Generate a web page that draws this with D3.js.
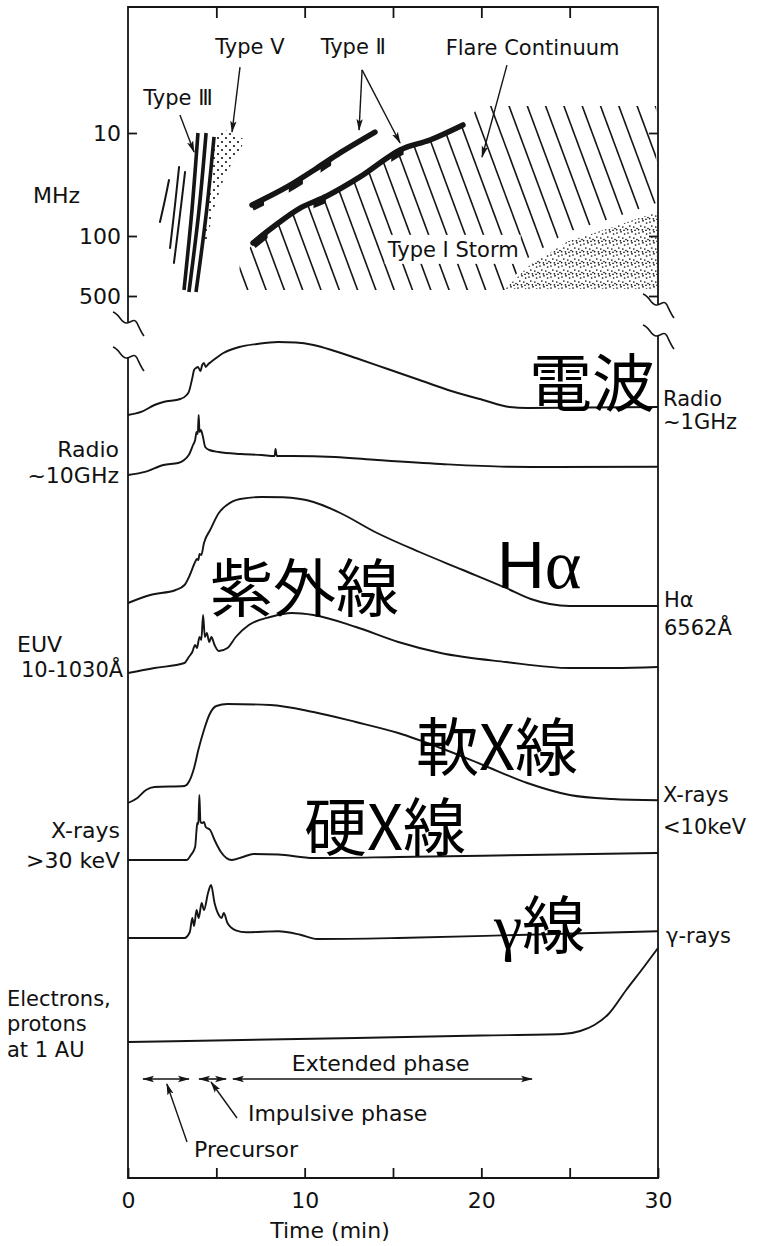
<!DOCTYPE html>
<html>
<head>
<meta charset="utf-8">
<script src="https://cdn.jsdelivr.net/npm/d3@7"></script>
<style>
  html, body { margin: 0; padding: 0; background: #ffffff; }
  svg { display: block; }
  .lbl { font-family: "DejaVu Sans", sans-serif; font-size: 22px; fill: #111; }
  .jp { font-family: "Noto Sans CJK JP", sans-serif; font-size: 63px; fill: #000; }
</style>
</head>
<body>
<svg id="chart" width="769" height="1246"></svg>
<script>
// ---------------- data ----------------
// time axis (minutes)
const timeTicks = [0, 5, 10, 15, 20, 25, 30];
const timeTickLabels = [0, 10, 20, 30];
// dynamic spectrum frequency ticks (MHz)
const freqTicks = [10, 100, 500];

// dynamic spectrum features: [time (min), frequency (MHz)]
const typeIIIThin = [
  [[2.32, 28.6], [2.09, 44.7], [1.81, 73]],
  [[2.89, 21.4], [2.66, 50], [2.38, 138]],
  [[3.23, 23.9], [2.94, 62.5], [2.60, 206]]
];
const typeIIIThick = [
  [[3.96, 10], [3.62, 56], [3.17, 426]],
  [[4.42, 10], [4.02, 56], [3.45, 449]],
  [[4.87, 10.9], [4.42, 62.5], [3.85, 449]]
];
const typeVRegion = [[4.92, 10.5], [5.66, 9.35], [6.62, 11.7], [6.34, 14.6], [5.49, 25.6],
  [4.75, 62.5], [4.47, 127], [4.25, 111], [4.47, 44.7], [4.81, 18.3]];
const typeIIUpper = [[7.02, 50], [9.0, 33.4], [10.7, 21.9], [12.0, 15.6], [13.98, 9.8]];
const typeIILower = [[7.08, 120.6], [8.21, 81.8], [9.74, 53.5], [11.26, 40.9], [13.13, 26.7],
  [15.4, 14.6], [17.09, 11.7], [18.96, 8.36]];
// thickened stretches of the type II lanes (time ranges)
const typeIIUpperBlobs = [[7.0, 7.7], [9.1, 9.9], [10.9, 11.5]];
const typeIILowerBlobs = [[7.05, 7.9], [10.5, 11.2], [14.9, 15.6]];
// flare continuum (hatched) outline
const flareContinuum = [[6.23, 426], [6.34, 201], ...typeIILower, [19.92, 5.47], [29.9, 5.47],
  [29.9, 47.9], [27.45, 66.8], [24.85, 91.4], [22.64, 180], [21.34, 426]];
// type I noise storm (stippled) outline
const typeIStorm = [[21.34, 414], [22.75, 218], [24.85, 117], [27.45, 81.8], [29.94, 58.5], [29.94, 414]];

// light curves: [time (min), relative flux above pre-flare level]
const radio1GHz = [[0, 0], [0.78, 3.3], [1.5, 10], [2.0, 13], [2.96, 16], [3.32, 20], [3.44, 23], [3.64, 37],
  [3.74, 45], [3.85, 47], [3.96, 48], [4.1, 44], [4.2, 50], [4.3, 52], [4.4, 48], [4.55, 51], [4.7, 53],
  [5.4, 62], [6.3, 68], [7.3, 71], [8.5, 73], [9.5, 72.5], [10.5, 70], [11.7, 64], [12.9, 57], [14.7, 46],
  [16.5, 35], [18.3, 24], [20.1, 15], [21.6, 8], [22.6, 7], [26, 7.5], [30, 8]];
const radio10GHz = [[0, 0], [1.02, 3.3], [2.0, 10], [2.84, 12], [3.44, 20], [3.68, 30], [3.8, 35], [3.88, 43],
  [3.95, 41], [4.0, 60], [4.05, 43], [4.12, 45], [4.22, 40], [4.37, 28], [4.6, 25], [5.14, 23], [6.35, 21],
  [7.57, 20], [8.3, 19], [8.35, 26], [8.42, 19], [9.27, 19], [11.7, 18], [14.1, 15], [17.7, 11], [21.4, 8.3],
  [23.8, 8], [30, 8.3]];
const hAlpha = [[0, 0], [1.26, 8], [2.7, 13], [3.2, 18], [3.5, 28], [3.8, 41], [3.9, 44], [3.98, 43], [4.05, 49],
  [4.15, 48], [4.3, 60], [4.65, 73], [5.14, 90], [5.6, 98], [6.35, 104], [7.57, 106], [8.78, 105.7],
  [10.5, 101], [11.9, 91], [14.1, 70], [16.5, 51], [18.96, 33], [21.4, 15], [22.8, 4], [25, -3], [30, -3]];
const euv = [[0, 0], [1.5, 5], [3.2, 10], [3.44, 16], [3.64, 21], [3.8, 28], [3.9, 25], [4.05, 36], [4.15, 33],
  [4.25, 58], [4.35, 36], [4.46, 40], [4.6, 31], [4.72, 36], [4.9, 28], [5.14, 22], [5.63, 25], [6.1, 36],
  [6.84, 48], [8.05, 56], [9.27, 60], [10.5, 58], [12.9, 46], [15.3, 31], [17.7, 20], [21.4, 11], [25, 5],
  [27.5, 5], [30, 6]];
const softXray = [[0, 0], [0.53, 5], [1.02, 13], [1.5, 16], [3.2, 17], [3.44, 21], [3.74, 35], [3.98, 53],
  [4.3, 73], [4.6, 88], [5.0, 97], [5.63, 99], [8.05, 98], [10.5, 91], [12.9, 81], [15.3, 70], [17.7, 55],
  [20.1, 38], [22.6, 20], [25, 8], [27.4, 4], [30, 2.7]];
const hardXray = [[0, 0], [3.32, 0], [3.56, 5], [3.8, 13], [3.88, 30], [3.92, 37], [3.98, 36], [4.04, 65],
  [4.1, 38], [4.2, 37], [4.3, 38], [4.4, 33], [4.65, 30], [4.9, 20], [5.26, 8], [5.87, 0], [6.5, 3], [7.1, 6],
  [8.5, 5.5], [10.5, 2], [15.3, 3], [22.6, 5], [30, 7]];
const gammaRay = [[0, 0], [3.2, 0], [3.5, 6], [3.64, 20], [3.74, 12], [3.88, 28], [4.0, 20], [4.17, 35],
  [4.3, 28], [4.53, 45], [4.7, 53], [4.9, 35], [5.14, 23], [5.3, 20], [5.42, 25], [5.63, 15], [6.1, 7.7],
  [6.7, 5.7], [8.5, 6.7], [9.75, 3.3], [10.7, -1], [15.3, 0], [22.6, 3.3], [30, 6.7]];
const particles = [[0, 0], [12.9, 4], [20, 6.5], [24.6, 8], [25.6, 11], [26.4, 17], [27.2, 28], [28.2, 52],
  [29.2, 75], [30, 94]];

// flare phases (time spans, min)
const phaseNames = ["Precursor", "Impulsive phase", "Extended phase"];
const phaseSpans = [[0.85, 3.45], [4.02, 5.55], [5.94, 22.87]];

// ---------------- drawing ----------------
const svg = d3.select("#chart");
const INK = "#151515";

const defs = svg.append("defs");
// slim arrow head for annotation pointers
defs.append("marker").attr("id", "head").attr("markerUnits", "userSpaceOnUse")
  .attr("viewBox", "0 0 12 8").attr("markerWidth", 12).attr("markerHeight", 8)
  .attr("refX", 11).attr("refY", 4).attr("orient", "auto-start-reverse")
  .append("path").attr("d", "M0,0.8 L12,4 L0,7.2 L2.5,4 Z").attr("fill", INK);
// stipple tiles
const pV = defs.append("pattern").attr("id", "dotsV").attr("patternUnits", "userSpaceOnUse")
  .attr("width", 8).attr("height", 8);
[[2, 2], [6, 6]].forEach(p => pV.append("circle").attr("cx", p[0]).attr("cy", p[1]).attr("r", 1.1).attr("fill", INK));
const pI = defs.append("pattern").attr("id", "dotsI").attr("patternUnits", "userSpaceOnUse")
  .attr("width", 11).attr("height", 11);
[[1, 2], [5, 0.8], [8.6, 3], [2.8, 6], [6.8, 7], [10, 8.5], [0.6, 9.6], [4.4, 9.8], [8, 10.4]]
  .forEach(p => pI.append("circle").attr("cx", p[0]).attr("cy", p[1]).attr("r", 0.85).attr("fill", INK));

const x = d3.scaleLinear().domain([0, 30]).range([128, 658]);
const ySpec = d3.scaleLog().domain([10, 100, 500]).range([133, 236, 296]);
const flux = d3.scaleLinear().domain([0, 100]).range([0, -100]);

// ---- frame with axis breaks ----
function breakMark(cx, cy) {
  return `M${cx - 15},${cy - 10} C${cx - 8},${cy - 8} ${cx - 7},${cy + 2} ${cx - 1},${cy + 1}` +
    ` C${cx + 4},${cy} ${cx + 6},${cy - 4} ${cx + 9},${cy + 1} C${cx + 11},${cy + 5} ${cx + 13},${cy + 10} ${cx + 16},${cy + 14}`;
}
const frame = svg.append("g").attr("fill", "none").attr("stroke", INK).attr("stroke-width", 1.8);
frame.append("path").attr("d", `M${x(0)},322 L${x(0)},7 L${x(30)},7 L${x(30)},304`);
frame.append("path").attr("d", `M${x(0)},357 L${x(0)},1178 L${x(30)},1178 L${x(30)},335`);
[[x(0), 322], [x(0), 357], [x(30), 304], [x(30), 335]].forEach(c =>
  frame.append("path").attr("d", breakMark(c[0], c[1])).attr("stroke-width", 1.6));

function styleAxis(g) {
  g.select(".domain").remove();
  g.selectAll(".tick line").attr("stroke", INK).attr("stroke-width", 1.8);
  g.selectAll(".tick text").attr("class", "lbl").attr("fill", "#111");
  g.attr("font-size", null).attr("font-family", null);
}
svg.append("g").attr("transform", `translate(${x(0)},0)`)
  .call(d3.axisLeft(ySpec).tickValues(freqTicks).tickFormat(d3.format("d")).tickSize(-9).tickPadding(7))
  .call(styleAxis);
svg.append("g").attr("transform", `translate(${x(30)},0)`)
  .call(d3.axisRight(ySpec).tickValues(freqTicks).tickFormat("").tickSize(-9))
  .call(styleAxis);
svg.append("g").attr("transform", "translate(0,7)")
  .call(d3.axisTop(x).tickValues(timeTicks.slice(1, -1)).tickFormat("").tickSize(-11))
  .call(styleAxis);
svg.append("g").attr("transform", "translate(0,1178)")
  .call(d3.axisBottom(x).tickValues(timeTicks).tickSize(-10).tickPadding(14)
    .tickFormat(d => timeTickLabels.includes(d) ? d : ""))
  .call(styleAxis);

svg.append("text").attr("class", "lbl").attr("x", 33).attr("y", 203).text("MHz");
svg.append("text").attr("class", "lbl").attr("x", 330).attr("y", 1238)
  .attr("text-anchor", "middle").text("Time (min)");

// ---- dynamic spectrum ----
const specLine = d3.line().x(d => x(d[0])).y(d => ySpec(d[1])).curve(d3.curveCatmullRom);
const specArea = d3.line().x(d => x(d[0])).y(d => ySpec(d[1])).curve(d3.curveLinearClosed);
const spec = svg.append("g");

// flare continuum hatching, clipped to its outline
defs.append("clipPath").attr("id", "fcClip").append("path").attr("d", specArea(flareContinuum));
const hatch = spec.append("g").attr("clip-path", "url(#fcClip)");
const hatchSlope = 2.7, hatchGap = 18.3;
d3.range(-6, 30).forEach(k => {
  const xb = 250 + k * hatchGap;
  hatch.append("line").attr("x1", xb - (296 - 95) / hatchSlope).attr("y1", 95)
    .attr("x2", xb).attr("y2", 296).attr("stroke", INK).attr("stroke-width", 1.6);
});

// type I storm stipple
spec.append("path").attr("d", specArea(typeIStorm)).attr("fill", "url(#dotsI)");
// type V stipple
spec.append("path").attr("d", specArea(typeVRegion)).attr("fill", "url(#dotsV)");

// type III bursts
typeIIIThin.forEach(b => spec.append("path").attr("d", specLine(b)).attr("fill", "none")
  .attr("stroke", INK).attr("stroke-width", 2).attr("stroke-linecap", "round"));
typeIIIThick.forEach(b => spec.append("path").attr("d", specLine(b)).attr("fill", "none")
  .attr("stroke", INK).attr("stroke-width", 3.6).attr("stroke-linecap", "butt"));

// type II lanes with their thicker stretches
function lane(pts, blobs, id) {
  spec.append("path").attr("d", specLine(pts)).attr("fill", "none")
    .attr("stroke", INK).attr("stroke-width", 5.5).attr("stroke-linecap", "round");
  blobs.forEach((b, i) => {
    const cid = `${id}${i}`;
    defs.append("clipPath").attr("id", cid).append("rect")
      .attr("x", x(b[0])).attr("y", 0).attr("width", x(b[1]) - x(b[0])).attr("height", 320);
    spec.append("path").attr("d", specLine(pts)).attr("fill", "none").attr("clip-path", `url(#${cid})`)
      .attr("transform", "translate(0,2)").attr("stroke", INK).attr("stroke-width", 8);
  });
}
lane(typeIIUpper, typeIIUpperBlobs, "bu");
lane(typeIILower, typeIILowerBlobs, "bl");

// spectrum annotations
function pointer(from, to, scaleY) {
  svg.append("line").attr("x1", x(from[0])).attr("y1", scaleY(from[1]))
    .attr("x2", x(to[0])).attr("y2", scaleY(to[1]))
    .attr("stroke", INK).attr("stroke-width", 1.4).attr("marker-end", "url(#head)");
}
pointer([2.94, 6.69], [3.74, 15.3], ySpec);
pointer([6.34, 2.29], [5.89, 9.78], ySpec);
pointer([13.25, 2.44], [13.08, 9.35], ySpec);
pointer([13.25, 2.44], [15.40, 12.5], ySpec);
pointer([21.45, 2.19], [20.04, 17.1], ySpec);
const specLabels = [
  { text: "Type Ⅲ", t: 2.83, f: 5.37, anchor: "middle" },
  { text: "Type Ⅴ", t: 6.9, f: 1.7, anchor: "middle" },
  { text: "Type Ⅱ", t: 12.75, f: 1.7, anchor: "middle" },
  { text: "Flare Continuum", t: 22.9, f: 1.74, anchor: "middle" }
];
specLabels.forEach(l => svg.append("text").attr("class", "lbl")
  .style("font-size", "21px").attr("x", x(l.t)).attr("y", ySpec(l.f))
  .attr("text-anchor", l.anchor).text(l.text));
const storm = svg.append("g");
const stormText = storm.append("text").attr("class", "lbl").style("font-size", "21px")
  .attr("x", x(14.7)).attr("y", ySpec(175)).text("Type I Storm");
const bb = stormText.node().getBBox();
storm.insert("rect", "text").attr("x", bb.x - 2).attr("y", bb.y - 3)
  .attr("width", bb.width + 4).attr("height", bb.height + 5).attr("fill", "#fff");

// ---- light curves ----
const traces = [
  { data: radio1GHz, base: 415 },
  { data: radio10GHz, base: 475 },
  { data: hAlpha, base: 603 },
  { data: euv, base: 673 },
  { data: softXray, base: 803 },
  { data: hardXray, base: 860 },
  { data: gammaRay, base: 938 },
  { data: particles, base: 1042 }
];
traces.forEach(tr => {
  const line = d3.line().x(d => x(d[0])).y(d => tr.base + flux(d[1])).curve(d3.curveMonotoneX);
  svg.append("path").attr("d", line(tr.data)).attr("fill", "none")
    .attr("stroke", INK).attr("stroke-width", 1.9).attr("stroke-linejoin", "round");
});

// channel labels
const leftLabels = [
  { lines: ["Radio", "~10GHz"], x: 119, ys: [457, 483], anchor: "end", size: 22 },
  { lines: ["EUV"], x: 17, ys: [652], anchor: "start", size: 22 },
  { lines: ["10-1030Å"], x: 21, ys: [677], anchor: "start", size: 21 },
  { lines: ["X-rays", ">30 keV"], x: 120, ys: [838, 868], anchor: "end", size: 22 },
  { lines: ["Electrons,", "protons", "at 1 AU"], x: 7, ys: [1006, 1031, 1057], anchor: "start", size: 21 }
];
const rightLabels = [
  { lines: ["Radio", "~1GHz"], x: 663, ys: [406, 429], size: 21 },
  { lines: ["Hα", "6562Å"], x: 664, ys: [607, 635], size: 21 },
  { lines: ["X-rays", "<10keV"], x: 663, ys: [802, 834], size: 21 },
  { lines: ["γ-rays"], x: 666, ys: [943], size: 21 }
];
leftLabels.concat(rightLabels).forEach(l => l.lines.forEach((s, i) =>
  svg.append("text").attr("class", "lbl").style("font-size", l.size + "px")
    .attr("x", l.x).attr("y", l.ys[i])
    .attr("text-anchor", l.anchor || "start").text(s)));

// Japanese captions
const jp = svg.append("g");
jp.append("text").attr("class", "jp").attr("x", 529).attr("y", 406).text("電波");
jp.append("text").attr("class", "jp").attr("x", 210).attr("y", 611).text("紫外線");
jp.append("text").attr("class", "jp").attr("x", 416).attr("y", 770).text("軟X線");
jp.append("text").attr("class", "jp").attr("x", 304).attr("y", 850).text("硬X線");
const ga = jp.append("text").attr("class", "jp").attr("x", 494).attr("y", 948);
ga.append("tspan").style("font-family", "'Liberation Serif', serif").style("font-size", "64px").text("γ");
ga.append("tspan").text("線");
const ha = jp.append("text").attr("x", 497).attr("y", 588).attr("fill", "#000");
ha.append("tspan").style("font-family", "'Liberation Sans', sans-serif").style("font-size", "66px").text("H");
ha.append("tspan").style("font-family", "'Liberation Serif', serif").style("font-size", "70px").text("α");

// ---- flare phases ----
const phaseY = 1079;
phaseSpans.forEach(s => svg.append("line").attr("x1", x(s[0])).attr("x2", x(s[1]))
  .attr("y1", phaseY).attr("y2", phaseY).attr("stroke", INK).attr("stroke-width", 1.6)
  .attr("marker-start", "url(#head)").attr("marker-end", "url(#head)"));
svg.append("text").attr("class", "lbl").attr("x", x(d3.mean(phaseSpans[2]) - 0.1)).attr("y", 1071)
  .attr("text-anchor", "middle").text(phaseNames[2]);
svg.append("text").attr("class", "lbl").attr("x", x(6.79)).attr("y", 1121).text(phaseNames[1]);
svg.append("text").attr("class", "lbl").attr("x", x(3.74)).attr("y", 1157).text(phaseNames[0]);
const yPix = v => v;
pointer([6.17, 1118], [4.7, 1082], yPix);
pointer([3.34, 1142], [2.2, 1084], yPix);
</script>
</body>
</html>
